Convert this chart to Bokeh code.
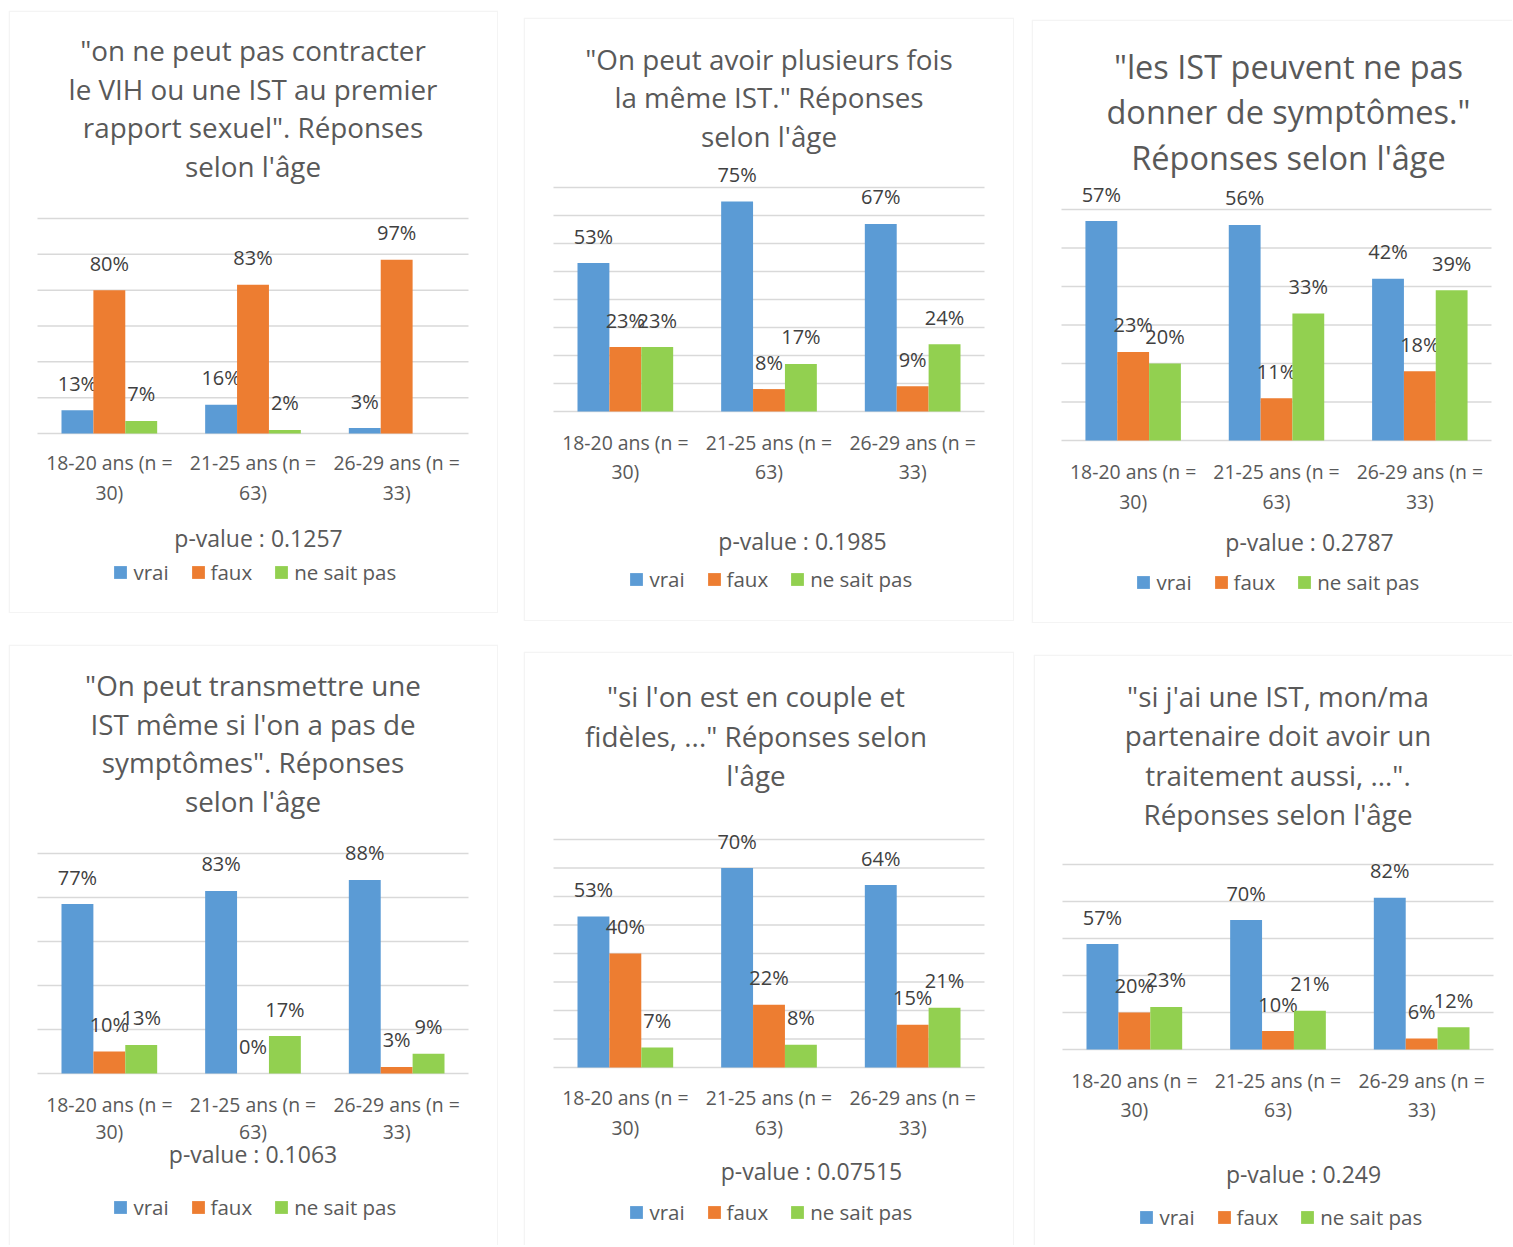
import numpy as np
from bokeh.plotting import figure
from bokeh.models import ColumnDataSource, Range1d, BoxAnnotation, Spacer
from bokeh.layouts import row, column
from bokeh.core.properties import value
from bokeh.embed import file_html
from bokeh.resources import INLINE

# ---------------- data ----------------
categories = ["18-20 ans (n = 30)", "21-25 ans (n = 63)", "26-29 ans (n = 33)"]
series_names = ["vrai", "faux", "ne sait pas"]
series_colors = ["#5B9BD5", "#ED7D31", "#92D050"]

title_1 = ['"on ne peut pas contracter', 'le VIH ou une IST au premier',
           'rapport sexuel". Réponses', "selon l'âge"]
vrai_1 = [13, 16, 3]
faux_1 = [80, 83, 97]
nsp_1 = [7, 2, None]
pvalue_1 = "0.1257"
yticks_1 = [0, 20, 40, 60, 80, 100, 120]

title_2 = ['"On peut avoir plusieurs fois', 'la même IST." Réponses', "selon l'âge"]
vrai_2 = [53, 75, 67]
faux_2 = [23, 8, 9]
nsp_2 = [23, 17, 24]
pvalue_2 = "0.1985"
yticks_2 = [0, 10, 20, 30, 40, 50, 60, 70, 80]

title_3 = ['"les IST peuvent ne pas', 'donner de symptômes."', "Réponses selon l'âge"]
vrai_3 = [57, 56, 42]
faux_3 = [23, 11, 18]
nsp_3 = [20, 33, 39]
pvalue_3 = "0.2787"
yticks_3 = [0, 10, 20, 30, 40, 50, 60]

title_4 = ['"On peut transmettre une', "IST même si l'on a pas de",
           'symptômes". Réponses', "selon l'âge"]
vrai_4 = [77, 83, 88]
faux_4 = [10, 0, 3]
nsp_4 = [13, 17, 9]
pvalue_4 = "0.1063"
yticks_4 = [0, 20, 40, 60, 80, 100]

title_5 = ['"si l\'on est en couple et', 'fidèles, ..." Réponses selon', "l'âge"]
vrai_5 = [53, 70, 64]
faux_5 = [40, 22, 15]
nsp_5 = [7, 8, 21]
pvalue_5 = "0.07515"
yticks_5 = [0, 10, 20, 30, 40, 50, 60, 70, 80]

title_6 = ['"si j\'ai une IST, mon/ma', 'partenaire doit avoir un',
           'traitement aussi, ...".', "Réponses selon l'âge"]
vrai_6 = [57, 70, 82]
faux_6 = [20, 10, 6]
nsp_6 = [23, 21, 12]
pvalue_6 = "0.249"
yticks_6 = [0, 20, 40, 60, 80, 100]

# ---------------- layout geometry (pixels inside each panel) ----------------
geom_1 = dict(W=490, H=603, gl=29, gr=460, base=423, k=1.792, t_y=39.5, t_dy=38.7, t_fs=27.8, t_dx=0,
              c_y=452, c_dy=30, pv_y=527.5, pv_dx=5.5, lg_y=562, lg_x=106, open_r=False, open_b=False)
geom_2 = dict(W=491, H=604, gl=30, gr=461, base=394, k=2.8, t_y=41, t_dy=38.7, t_fs=27.8, t_dx=0,
              c_y=425, c_dy=29, pv_y=523.5, pv_dx=33.5, lg_y=562, lg_x=107, open_r=False, open_b=False)
geom_3 = dict(W=481, H=604, gl=30, gr=460, base=421, k=3.85, t_y=46.5, t_dy=45.5, t_fs=32.5, t_dx=12,
              c_y=452, c_dy=30, pv_y=522.5, pv_dx=33, lg_y=563, lg_x=106, open_r=True, open_b=False)
geom_4 = dict(W=490, H=601, gl=29, gr=460, base=429, k=2.2, t_y=40.5, t_dy=38.5, t_fs=27.8, t_dx=0,
              c_y=460, c_dy=27, pv_y=509.5, pv_dx=0, lg_y=563, lg_x=106, open_r=False, open_b=True)
geom_5 = dict(W=491, H=594, gl=30, gr=461, base=416, k=2.85, t_y=44.5, t_dy=39.5, t_fs=27.8, t_dx=-13,
              c_y=446, c_dy=30, pv_y=519.5, pv_dx=42.5, lg_y=561, lg_x=107, open_r=False, open_b=True)
geom_6 = dict(W=479, H=591, gl=29, gr=460, base=395, k=1.85, t_y=41.5, t_dy=39.3, t_fs=27.8, t_dx=0,
              c_y=426, c_dy=29, pv_y=519.5, pv_dx=25.5, lg_y=563, lg_x=107, open_r=True, open_b=True)

FONT = value("Open Sans")
GREY = "#595959"
DARK = "#404040"


def make_panel(title_lines, series, pvalue, yticks, g):
    W, H = g["W"], g["H"]
    n = len(categories)
    cw = (g["gr"] - g["gl"]) / n

    def X(px):
        return (px - g["gl"]) / cw

    def Y(py):
        return (g["base"] - py) / g["k"]

    p = figure(width=W, height=H, x_range=Range1d(X(0), X(W)), y_range=Range1d(Y(H), Y(0)),
               output_backend="svg", toolbar_location=None,
               x_axis_location=None, y_axis_location=None,
               min_border=0, min_border_left=0, min_border_right=0,
               min_border_top=0, min_border_bottom=0,
               outline_line_color=None, background_fill_color="white",
               border_fill_color="white")
    p.grid.visible = False

    # horizontal gridlines over the category area
    p.segment(x0=[0] * len(yticks), x1=[n] * len(yticks), y0=yticks, y1=yticks,
              line_color="#D9D9D9", line_width=1.5)

    centers = np.arange(n) + 0.5
    bw = 0.222
    offsets = [-bw, 0.0, bw]
    for name, color, vals, off in zip(series_names, series_colors, series, offsets):
        xs = [c + off for c, v in zip(centers, vals) if v is not None]
        tops = [v for v in vals if v is not None]
        src = ColumnDataSource(dict(x=xs, top=tops, lab=[f"{v}%" for v in tops]))
        p.vbar(x="x", top="top", bottom=0, width=bw, source=src,
               fill_color=color, line_color=None, legend_label=name)
        p.text(x="x", y="top", text="lab", source=src, y_offset=-27,
               text_font=FONT, text_font_size="20px", text_color=DARK,
               text_align="center", text_baseline="middle")

    # title
    tx = n / 2 + g["t_dx"] / cw
    p.text(x=[tx] * len(title_lines),
           y=[Y(g["t_y"] + i * g["t_dy"]) for i in range(len(title_lines))],
           text=title_lines, text_font=FONT, text_font_size=f"{g['t_fs']}px",
           text_color=GREY, text_align="center", text_baseline="middle")

    # category labels (wrapped over two lines)
    line1 = [c.rsplit(" ", 1)[0] for c in categories]
    line2 = [c.rsplit(" ", 1)[1] for c in categories]
    for txt, py in ((line1, g["c_y"]), (line2, g["c_y"] + g["c_dy"])):
        p.text(x=list(centers), y=[Y(py)] * n, text=txt, text_font=FONT,
               text_font_size="19.4px", text_color=GREY,
               text_align="center", text_baseline="middle")

    # p-value
    p.text(x=[n / 2 + g["pv_dx"] / cw], y=[Y(g["pv_y"])], text=[f"p-value : {pvalue}"],
           text_font=FONT, text_font_size="23px", text_color=GREY,
           text_align="center", text_baseline="middle")

    # legend
    leg = p.legend[0]
    leg.orientation = "horizontal"
    leg.location = (g["lg_x"] - 1.6, H - g["lg_y"] - 14)
    leg.padding = 0
    leg.margin = 0
    leg.spacing = 21
    leg.glyph_width = 16
    leg.glyph_height = 16
    leg.label_standoff = 5
    leg.border_line_color = None
    leg.background_fill_alpha = 0
    leg.label_text_font = "Open Sans"
    leg.label_text_font_size = "20.5px"
    leg.label_text_color = GREY

    # panel border
    right = X(W + 30) if g["open_r"] else X(W - 0.75)
    bottom = Y(H + 30) if g["open_b"] else Y(H - 0.75)
    p.add_layout(BoxAnnotation(left=X(0.75), right=right, top=Y(0.75), bottom=bottom,
                               fill_color=None, fill_alpha=0, line_color="#D9D9D9",
                               line_width=1.5))
    return p


p1 = make_panel(title_1, [vrai_1, faux_1, nsp_1], pvalue_1, yticks_1, geom_1)
p2 = make_panel(title_2, [vrai_2, faux_2, nsp_2], pvalue_2, yticks_2, geom_2)
p3 = make_panel(title_3, [vrai_3, faux_3, nsp_3], pvalue_3, yticks_3, geom_3)
p4 = make_panel(title_4, [vrai_4, faux_4, nsp_4], pvalue_4, yticks_4, geom_4)
p5 = make_panel(title_5, [vrai_5, faux_5, nsp_5], pvalue_5, yticks_5, geom_5)
p6 = make_panel(title_6, [vrai_6, faux_6, nsp_6], pvalue_6, yticks_6, geom_6)

col1 = column(Spacer(width=1, height=10), p1, Spacer(width=1, height=31), p4)
col2 = column(Spacer(width=1, height=17), p2, Spacer(width=1, height=30), p5)
col3 = column(Spacer(width=1, height=19), p3, Spacer(width=1, height=31),
              row(Spacer(width=2, height=1), p6))
layout = row(Spacer(width=8, height=1), col1, Spacer(width=25, height=1), col2,
             Spacer(width=17, height=1), col3)

open("out.html", "w").write(file_html(layout, INLINE))
